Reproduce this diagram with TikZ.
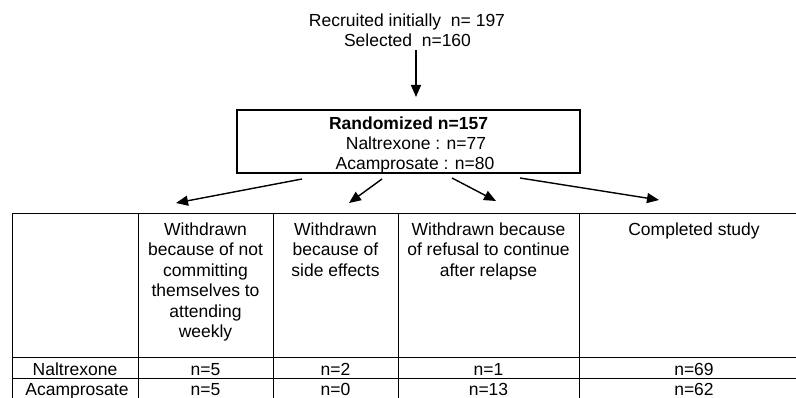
\documentclass[tikz,border=0pt]{standalone}
\usepackage{fontspec}
\setmainfont{Liberation Sans}
\usetikzlibrary{arrows.meta}
\begin{document}
\begin{tikzpicture}[x=1pt,y=-1pt,
  txt/.style={inner sep=0pt, font=\fontsize{17.5}{20.5}\selectfont},
  cell/.style={txt, align=center, anchor=north},
  flow/.style={line width=1.4pt, -{Triangle[length=12pt,width=10pt]}},
  grid/.style={line width=1pt}]
\useasboundingbox (0,0) rectangle (796,398);
\clip (0,0) rectangle (796,398);

% recruitment and selection
\node[txt, anchor=base] (recr) at (407,27) {Recruited initially\ \ n= 197};
\node[txt, anchor=base] (sel)  at (407.5,47) {Selected\ \ n=160};

% randomisation box
\node[draw, line width=1.2pt, minimum width=343pt, minimum height=63pt, inner sep=0pt]
  (rand) at (408.5,141.5) {};
\node[txt, anchor=base] (r1) at (408.5,130) {\textbf{Randomized n=157}};
\node[txt, anchor=base] (r2) at (416,150) {Naltrexone : n=77};
\node[txt, anchor=base] (r3) at (415,170) {Acamprosate : n=80};

\coordinate (selout) at (416,50);
\coordinate (randin) at (416,97);
\draw[flow] (selout) -- (randin);

% arrows fanning out to the outcome columns
\coordinate (s1) at (302,179); \coordinate (e1) at (176,203);
\coordinate (s2) at (382,179); \coordinate (e2) at (349,203);
\coordinate (s3) at (452,178); \coordinate (e3) at (496,201);
\coordinate (s4) at (520,178); \coordinate (e4) at (659,200);
\draw[flow] (s1) -- (e1);
\draw[flow] (s2) -- (e2);
\draw[flow] (s3) -- (e3);
\draw[flow] (s4) -- (e4);

% outcome table
\draw[grid] (12,214) -- (812,214);
\draw[grid] (12,358) -- (812,358);
\draw[grid] (12,378) -- (812,378);
\foreach \x in {12,138,273,398,579}
  \draw[grid] (\x,214) -- (\x,400);

\node[cell] (h1) at (205.5,222.2) {Withdrawn\\because of not\\committing\\themselves to\\attending\\weekly};
\node[cell] (h2) at (335.5,222.2) {Withdrawn\\because of\\side effects};
\node[cell] (h3) at (488.5,222.2) {Withdrawn because\\of refusal to continue\\after relapse};
\node[cell] (h4) at (694,222.2) {Completed study};

\node[txt, anchor=base] (nal)  at (75,376) {Naltrexone};
\node[txt, anchor=base] (aca)  at (77,395.5) {Acamprosate};
\node[txt, anchor=base] (n11) at (205.5,376) {n=5};
\node[txt, anchor=base] (n12) at (335.5,376) {n=2};
\node[txt, anchor=base] (n13) at (488.5,376) {n=1};
\node[txt, anchor=base] (n14) at (694,376) {n=69};
\node[txt, anchor=base] (n21) at (205.5,395.5) {n=5};
\node[txt, anchor=base] (n22) at (335.5,395.5) {n=0};
\node[txt, anchor=base] (n23) at (488.5,395.5) {n=13};
\node[txt, anchor=base] (n24) at (694,395.5) {n=62};
\end{tikzpicture}
\end{document}
